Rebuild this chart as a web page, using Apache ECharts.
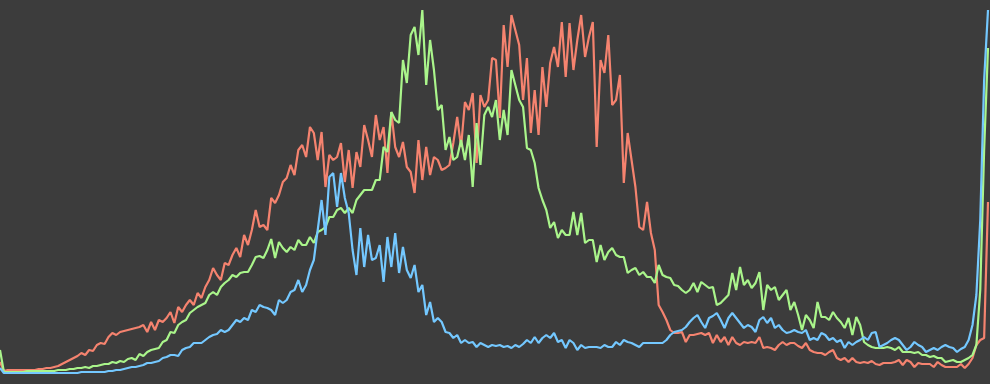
<!DOCTYPE html>
<html>
<head>
<meta charset="utf-8">
<script src="https://cdn.jsdelivr.net/npm/echarts@6/dist/echarts.min.js"></script>
<style>
html,body{margin:0;padding:0;background:#3c3c3c;}
#chart{width:990px;height:384px;}
</style>
</head>
<body>
<div id="chart"></div>
<script>
// 256 histogram bins (0..255)
const bins = Array.from({length: 256}, (_, i) => String(i));

const redValues = [
14,5,6,6,6,6,6,6,6,6,7,7,8,8,9,10,12,14,16,18,20,23,21,26,25,31,33,32,39,43,41,44,45,46,47,48,49,51,44,54,46,56,54,
58,64,53,69,64,71,76,71,83,78,89,96,108,101,96,113,111,121,128,119,141,131,146,166,149,151,146,178,173,181,194,198,211,201,226,231,219,249,243,216,244,189,221,
216,219,233,194,226,188,224,209,251,236,219,261,236,249,203,264,229,219,234,209,204,183,236,196,229,201,219,216,206,208,211,233,259,229,274,266,283,213,281,269,276,318,
316,258,351,309,361,346,331,276,318,243,286,241,309,269,313,329,309,354,299,353,306,336,361,319,339,354,229,316,303,341,271,276,301,193,243,216,189,149,146,174,143,126,71,
64,56,46,43,43,44,34,41,41,42,43,41,43,33,41,34,39,31,39,33,31,34,33,34,33,39,28,29,28,26,31,34,31,33,33,30,28,33,26,24,23,23,
21,24,26,18,16,18,14,18,14,13,14,13,15,12,11,13,13,13,14,16,11,16,14,9,13,12,12,12,9,14,11,9,9,9,9,12,8,12,18,31,36,38,174
];

const greenValues = [
26,4,4,4,4,4,4,5,5,5,5,5,5,5,5,6,6,6,7,7,8,8,9,8,10,10,11,12,12,14,13,15,14,17,18,16,22,20,24,26,27,28,34,
36,44,43,51,54,56,63,66,69,71,73,81,84,81,89,93,96,101,99,103,104,104,111,119,120,118,126,137,118,134,128,124,129,126,136,131,131,139,133,144,146,149,159,
159,166,168,163,168,163,176,181,186,186,186,196,196,229,224,264,256,253,316,293,341,349,321,366,291,336,306,266,271,226,239,216,219,236,216,241,189,253,211,261,269,259,
276,236,266,241,306,291,276,269,228,226,213,188,176,166,148,154,138,146,141,141,164,141,163,133,136,136,114,131,116,124,128,121,119,119,103,106,108,101,104,99,99,93,111,
101,99,98,91,90,86,83,86,93,84,94,91,88,89,71,73,77,81,103,86,109,91,96,88,93,104,66,91,86,89,76,81,86,66,74,61,46,61,56,48,74,59,
59,56,64,58,54,48,58,41,59,51,34,31,29,28,28,28,29,28,26,29,24,24,24,23,24,21,21,19,20,18,18,14,15,16,14,14,16,18,21,31,86,226,328
];

const blueValues = [
8,3,3,3,3,3,3,3,3,3,3,3,3,3,3,3,3,3,3,3,3,4,4,4,4,4,4,4,5,5,6,6,7,8,9,9,10,11,13,13,14,15,18,
19,21,21,20,26,28,29,33,33,33,36,39,41,42,46,44,46,51,56,54,58,56,66,64,71,69,68,66,61,76,73,76,84,86,96,84,91,106,116,146,176,141,199,
203,169,203,178,163,126,101,148,109,141,116,118,131,94,139,109,143,103,129,106,98,111,84,91,61,74,54,58,54,44,43,38,41,33,36,33,34,29,33,31,29,31,
30,31,29,30,28,31,29,32,36,33,39,33,38,41,38,43,34,36,28,36,33,26,31,28,29,29,29,28,31,29,29,34,31,36,34,33,31,29,33,33,33,33,33,
33,36,41,44,45,46,49,54,58,61,54,48,58,60,63,56,48,58,63,58,53,48,51,49,44,56,59,53,58,48,51,46,43,44,46,44,43,46,36,38,36,43,
41,36,38,34,36,28,34,31,34,36,39,36,43,44,29,31,33,36,38,36,31,26,29,34,31,29,24,26,28,26,29,31,29,28,24,27,29,36,51,81,156,296,366
];

const chart = echarts.init(document.getElementById('chart'), null, {renderer: 'canvas'});

function lineSeries(name, data, color) {
  return {
    name: name,
    type: 'line',
    data: data,
    showSymbol: false,
    symbol: 'none',
    animation: false,
    lineStyle: {color: color, width: 2.2},
    itemStyle: {color: color}
  };
}

chart.setOption({
  backgroundColor: '#3c3c3c',
  animation: false,
  grid: {left: 0, right: 2, top: 6, bottom: 8},
  xAxis: {
    type: 'category',
    data: bins,
    boundaryGap: false,
    show: false
  },
  yAxis: {
    type: 'value',
    min: 0,
    max: 370,
    show: false
  },
  series: [
    lineSeries('R', redValues, '#f5836f'),
    lineSeries('G', greenValues, '#aaf58b'),
    lineSeries('B', blueValues, '#74c8ff')
  ]
});
</script>
</body>
</html>
